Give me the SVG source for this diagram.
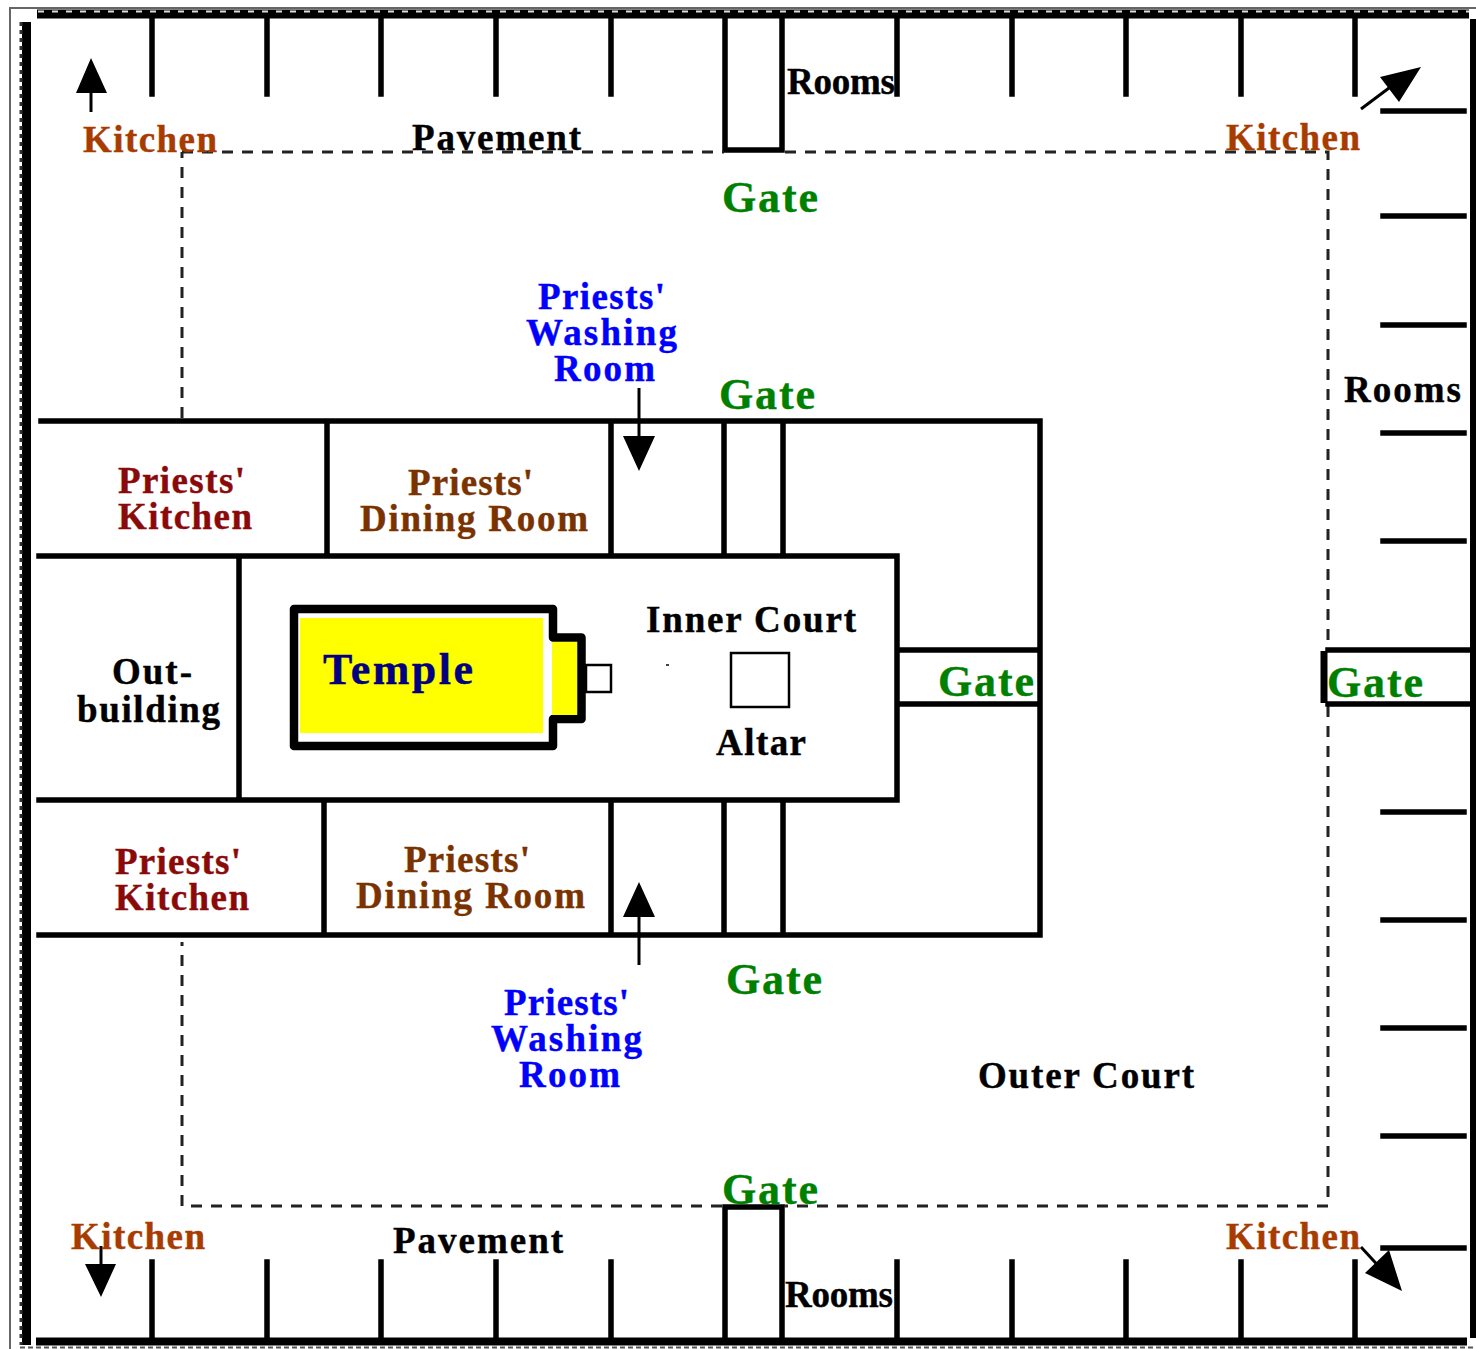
<svg xmlns="http://www.w3.org/2000/svg" width="1476" height="1349" viewBox="0 0 1476 1349">
<style>
text{font-family:"Liberation Serif","Times New Roman",serif;font-weight:bold;font-size:37px;stroke-width:.4}
.w{fill:none;stroke:#000;stroke-width:5.5;stroke-linecap:square}
.d{fill:none;stroke:#222;stroke-width:3;stroke-dasharray:11 9}
.k{fill:#a83c00;stroke:#a83c00}.g{fill:#008000;stroke:#008000}.b{fill:#0000ff;stroke:#0000ff}.r{fill:#8a0a0a;stroke:#8a0a0a}.n{fill:#7a3300;stroke:#7a3300}.t{fill:#000;stroke:#000}
.a{fill:#000;stroke:none}.l{stroke:#000;stroke-width:3;fill:none}
</style>
<rect width="1476" height="1349" fill="#fff"/>
<g id="frame">
<path d="M10 1349V8H1476" fill="none" stroke="#666" stroke-width="2"/>
<path d="M37 14H1469" stroke="#000" stroke-width="9" fill="none"/>
<path d="M38 11.5H1469" stroke="#ddd" stroke-width="2" stroke-dasharray="6 8" fill="none"/>
<path d="M26.5 22V1345" stroke="#000" stroke-width="9" fill="none"/>
<path d="M21 22V1345" stroke="#333" stroke-width="3" stroke-dasharray="4 4" fill="none"/>
<path d="M1473 19V1338" stroke="#000" stroke-width="6" fill="none"/>
<path d="M36 1341.5H1467" stroke="#000" stroke-width="8" fill="none"/>
<path d="M20 1347.5H1476" stroke="#555" stroke-width="2" stroke-dasharray="5 3" fill="none"/>
</g>
<g id="rooms">
<path class="w" d="M152 20V94M267 20V94M381 20V94M496 20V94M611 20V94M897 20V94M1012 20V94M1126 20V94M1241 20V94M1355 20V94"/>
<path class="w" d="M152 1262V1338M267 1262V1338M381 1262V1338M496 1262V1338M611 1262V1338M897 1262V1338M1012 1262V1338M1126 1262V1338M1241 1262V1338M1355 1262V1338"/>
<path class="w" d="M1383 111H1464M1383 216H1464M1383 325H1464M1383 433H1464M1383 541H1464M1383 812H1464M1383 920H1464M1383 1028H1464M1383 1136H1464M1383 1248H1464"/>
<path class="w" d="M725 20V150H782V20M725 1338V1207H782V1338"/>
</g>
<g id="pavement-line">
<path class="d" d="M182 152H724M785 152H1328V648M1328 706V1206H784M722 1206H182V942M182 418V152"/>
</g>
<g id="inner-walls">
<path class="w" d="M41 421H1040V935H39M39 556H897V800H39M327 421V556M611 421V556M724 421V556M783 421V556M239 556V800M324 800V935M611 800V935M724 800V935M783 800V935M897 650H1040M897 704H1040"/>
<path class="w" d="M1328 650H1470M1328 704H1470"/>
<path d="M1324 651V703" stroke="#000" stroke-width="7" fill="none"/>
</g>
<g id="temple">
<path d="M294 609H553V637.500H581.500V719H553V746H294Z" fill="#fff" stroke="#000" stroke-width="8.500" stroke-linejoin="round"/>
<path d="M300 618H543V733H300ZM552 642H577V715H552Z" fill="#ffff00"/>
<rect x="586" y="665" width="25" height="27" fill="#fff" stroke="#000" stroke-width="2.500"/>
<text x="323" y="684" style="font-size:44px;fill:#000080;stroke:#000080" textLength="150">Temple</text>
</g>
<g id="altar">
<rect x="731" y="653" width="58" height="54" fill="#fff" stroke="#000" stroke-width="2.500"/>
<rect x="666" y="664" width="3" height="2" fill="#444"/>
</g>
<g id="arrows">
<path class="l" d="M91 112V90M101 1246V1270M639 388V442M639 965V912M1361 109L1397 82M1361 1247L1384 1272"/>
<path class="a" d="M91 58L107 93H76ZM101 1297L85 1264H116ZM639 471L623 436H655ZM639 882L623 917H655ZM1421 67L1399 102L1380 77ZM1402 1291L1365 1273L1389 1250Z"/>
</g>
<g id="labels">
<text class="k" x="83" y="152" textLength="134">Kitchen</text>
<text class="k" x="1226" y="150" textLength="134">Kitchen</text>
<text class="k" x="71" y="1249" textLength="134">Kitchen</text>
<text class="k" x="1226" y="1249" textLength="134">Kitchen</text>
<text class="t" x="412" y="150" textLength="169">Pavement</text>
<text class="t" x="393" y="1253" textLength="170">Pavement</text>
<text class="t" x="787" y="94" textLength="108">Rooms</text>
<text class="t" x="785" y="1307" textLength="108">Rooms</text>
<text class="t" x="1344" y="402" textLength="117">Rooms</text>
<text class="g" x="722" y="212" style="font-size:44px" textLength="96">Gate</text>
<text class="g" x="719" y="409" style="font-size:44px" textLength="96">Gate</text>
<text class="g" x="938" y="696" style="font-size:44px" textLength="96">Gate</text>
<text class="g" x="1327" y="697" style="font-size:44px" textLength="96">Gate</text>
<text class="g" x="726" y="994" style="font-size:44px" textLength="96">Gate</text>
<text class="g" x="722" y="1204" style="font-size:44px" textLength="96">Gate</text>
<text class="b" x="538" y="309" textLength="127">Priests'</text>
<text class="b" x="526" y="345" textLength="151">Washing</text>
<text class="b" x="554" y="381" textLength="101">Room</text>
<text class="b" x="504" y="1015" textLength="125">Priests'</text>
<text class="b" x="491" y="1051" textLength="151">Washing</text>
<text class="b" x="519" y="1087" textLength="101">Room</text>
<text class="r" x="118" y="493" textLength="127">Priests'</text>
<text class="r" x="118" y="529" textLength="134">Kitchen</text>
<text class="r" x="115" y="874" textLength="126">Priests'</text>
<text class="r" x="115" y="910" textLength="134">Kitchen</text>
<text class="n" x="408" y="495" textLength="125">Priests'</text>
<text class="n" x="360" y="531" textLength="228">Dining Room</text>
<text class="n" x="404" y="872" textLength="126">Priests'</text>
<text class="n" x="356" y="908" textLength="229">Dining Room</text>
<text class="t" x="112" y="684" textLength="80">Out-</text>
<text class="t" x="77" y="722" textLength="143">building</text>
<text class="t" x="646" y="632" textLength="210">Inner Court</text>
<text class="t" x="716" y="755" textLength="90">Altar</text>
<text class="t" x="978" y="1088" textLength="216">Outer Court</text>
</g>
</svg>
